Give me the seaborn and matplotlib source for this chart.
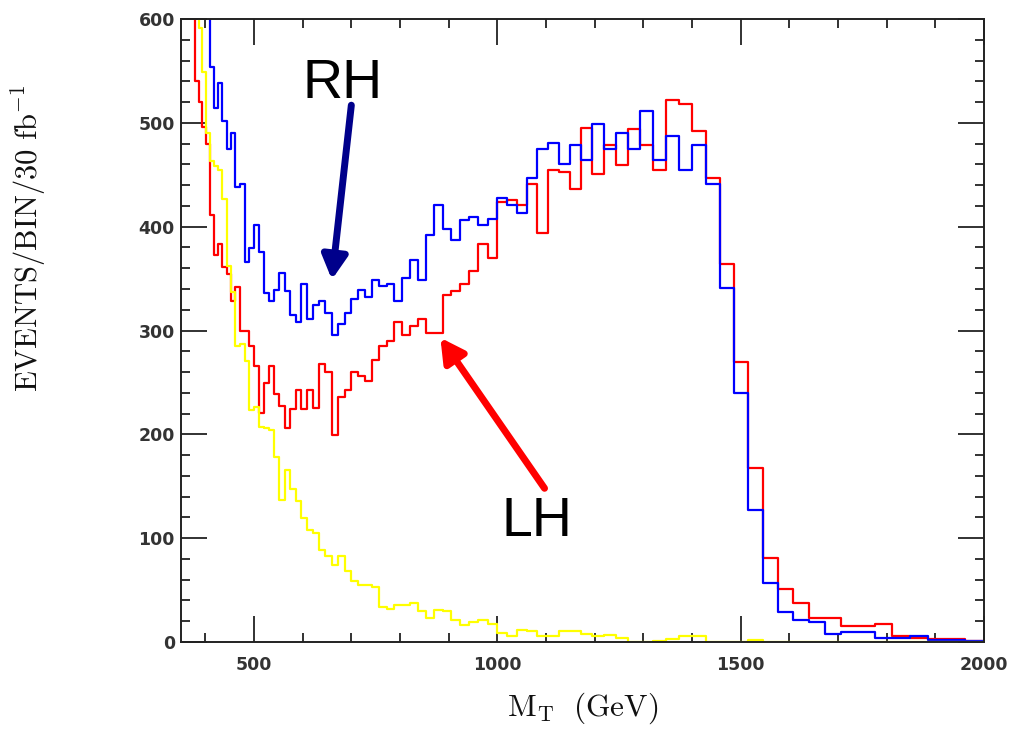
import numpy as np
import pandas as pd
import matplotlib
matplotlib.use("Agg")
import matplotlib.pyplot as plt
from matplotlib.ticker import MultipleLocator
import seaborn as sns

# log-spaced binning: 88 bins from 350 to 2000 GeV (each bin 2% wider)
BIN_EDGES = np.geomspace(350, 2000, 89)

# events per bin (first bins run off the top of the plot)
rh_events = [
    980, 900, 840, 790, 740, 700, 660, 625, 554, 514,
    538, 502, 475, 490, 438, 441, 366, 379, 402, 376,
    336, 328, 339, 355, 338, 315, 308, 345, 311, 325,
    328, 317, 296, 306, 317, 330, 339, 332, 349, 343,
    345, 328, 351, 368, 349, 392, 421, 398, 387, 406,
    409, 402, 407, 428, 421, 413, 447, 475, 481, 460,
    479, 464, 499, 475, 490, 475, 511, 464, 487, 455,
    479, 441, 341, 240, 127, 57, 29, 21, 19, 8,
    10, 10, 3.5, 3.5, 6, 1.5, 1.5, 1,
]
lh_events = [
    900, 800, 720, 650, 540, 520, 496, 480, 411, 373,
    383, 361, 354, 328, 342, 300, 300, 285, 266, 221,
    249, 266, 239, 227, 206, 224, 243, 224, 243, 225,
    268, 260, 199, 236, 243, 260, 256, 251, 272, 285,
    290, 308, 296, 304, 311, 298, 298, 334, 338, 345,
    357, 383, 370, 424, 426, 421, 441, 394, 455, 453,
    436, 495, 451, 479, 459, 494, 479, 455, 522, 518,
    492, 447, 364, 270, 168, 81, 51, 38, 23, 23,
    15, 15, 17, 6, 4, 3, 3, 1,
]
bkg_events = [
    950, 850, 770, 700, 640, 591, 549, 490, 463, 458,
    455, 427, 362, 337, 285, 287, 271, 223, 226, 207,
    206, 204, 178, 137, 166, 147, 136, 119, 108, 105,
    89, 83, 74, 83, 68, 59, 55, 55, 53, 34,
    32, 36, 36, 38, 30, 23, 31, 30, 21, 16,
    19, 21, 17, 9, 6, 12, 11, 6, 6, 11,
    11, 8, 6, 7, 4, 0, 0, 1, 3, 5.5,
    5.5, 0, 0, 0, 1.5, 0, 0, 0, 0, 0,
    0, 0, 0, 0, 0, 0, 0, 0,
]

centers = np.sqrt(BIN_EDGES[:-1] * BIN_EDGES[1:])

sns.set_style("ticks")
plt.rcParams["mathtext.fontset"] = "cm"

fig = plt.figure(figsize=(10.13, 7.32), dpi=100)
ax = fig.add_axes([181 / 1013, 1 - 642 / 732, (984 - 181) / 1013, (642 - 19) / 732])

for vals, col in [(lh_events, "#ff0000"), (rh_events, "#0000ff"), (bkg_events, "#ffff00")]:
    df = pd.DataFrame({"mt": centers, "n": np.asarray(vals, dtype=float)})
    # bins as a plain list: seaborn compares bins == "auto" when weights are given
    sns.histplot(data=df, x="mt", weights="n", bins=BIN_EDGES.tolist(), element="step",
                 fill=False, color=col, linewidth=1.6, ax=ax)

ax.set_xlim(350, 2000)
ax.set_ylim(0, 600)
ax.xaxis.set_major_locator(MultipleLocator(500))
ax.xaxis.set_minor_locator(MultipleLocator(100))
ax.yaxis.set_major_locator(MultipleLocator(100))
ax.yaxis.set_minor_locator(MultipleLocator(20))

ax.tick_params(which="both", direction="in", top=True, right=True,
               color="#222222", width=1.3)
ax.tick_params(which="major", length=19)
ax.tick_params(which="minor", length=6.5)
ax.tick_params(axis="y", pad=4.5)
ax.tick_params(axis="x", pad=10)
for lab in ax.get_xticklabels() + ax.get_yticklabels():
    lab.set_fontfamily("DejaVu Sans")
    lab.set_fontweight("bold")
    lab.set_fontsize(12.5)
    lab.set_color("#333333")
for sp in ax.spines.values():
    sp.set_color("#222222")
    sp.set_linewidth(1.4)

ax.set_xlabel(r"$\mathrm{M_T\ \ (GeV)}$", fontsize=22.5, labelpad=12, color="#111111")
ax.set_ylabel("")
fig.text(29 / 1013, 1 - 238 / 732, r"$\mathrm{EVENTS/BIN/30\ fb^{-1}}$",
         rotation=90, ha="center", va="center", fontsize=22, color="#111111")

# annotations
ax.text(681, 537, "RH", fontsize=40, ha="center", va="center",
        fontfamily="Liberation Sans", color="black")
ax.annotate("", xy=(660, 349), xytext=(700, 517),
            arrowprops=dict(arrowstyle="-|>,head_length=0.7,head_width=0.38",
                            lw=5, color="#00008b", mutation_scale=20,
                            shrinkA=0, shrinkB=0))
ax.text(1082, 116, "LH", fontsize=40, ha="center", va="center",
        fontfamily="Liberation Sans", color="black")
ax.annotate("", xy=(883, 293), xytext=(1097, 148),
            arrowprops=dict(arrowstyle="-|>,head_length=0.7,head_width=0.38",
                            lw=5, color="#ff0000", mutation_scale=20,
                            shrinkA=0, shrinkB=0))

fig.savefig("out.png", dpi=100)
